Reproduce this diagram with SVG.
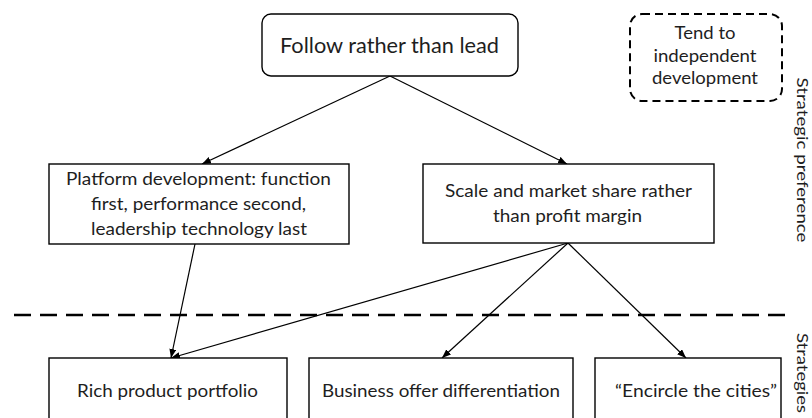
<svg xmlns="http://www.w3.org/2000/svg" width="812" height="418" viewBox="0 0 812 418">
<style>
  .t { font-family: Lato, "Open Sans", "Liberation Sans", sans-serif; fill: #1e1e1e; text-anchor: middle; }
  .box { fill: #fff; stroke: #000; stroke-width: 1.4; }
  .conn { stroke: #000; stroke-width: 1.2; fill: none; marker-end: url(#arr); }
</style>
<defs>
  <marker id="arr" markerUnits="userSpaceOnUse" markerWidth="10" markerHeight="8" refX="9" refY="3.5" orient="auto">
    <path d="M0,0 L9,3.5 L0,7 z" fill="#000"/>
  </marker>
</defs>
<rect width="812" height="418" fill="#fff"/>

<g id="separator">
  <line x1="14" y1="315" x2="792" y2="315" stroke="#000" stroke-width="2.6" stroke-dasharray="17 9"/>
</g>

<g id="connectors">
  <line class="conn" x1="390" y1="76" x2="202" y2="164"/>
  <line class="conn" x1="390" y1="76" x2="567" y2="164"/>
  <line class="conn" x1="195" y1="244" x2="171" y2="358"/>
  <line class="conn" x1="568" y1="243" x2="171" y2="358"/>
  <line class="conn" x1="568" y1="243" x2="442" y2="358"/>
  <line class="conn" x1="568" y1="243" x2="686" y2="358"/>
</g>

<g id="follow">
  <rect class="box" x="262" y="14" width="256" height="62" rx="9" stroke-width="1.8"/>
  <text class="t" x="389.5" y="53" font-size="21" textLength="219" lengthAdjust="spacingAndGlyphs">Follow rather than lead</text>
</g>

<g id="independent">
  <rect x="630" y="14" width="152" height="87" rx="12" fill="#fff" stroke="#000" stroke-width="2" stroke-dasharray="8 5"/>
  <text class="t" x="705" y="39" font-size="16.5" textLength="61" lengthAdjust="spacingAndGlyphs">Tend to</text>
  <text class="t" x="705" y="62" font-size="16.5" textLength="103" lengthAdjust="spacingAndGlyphs">independent</text>
  <text class="t" x="705" y="84" font-size="16.5" textLength="106" lengthAdjust="spacingAndGlyphs">development</text>
</g>

<g id="platform">
  <rect class="box" x="49" y="164" width="300" height="80"/>
  <text class="t" x="198.5" y="185" font-size="17" textLength="265" lengthAdjust="spacingAndGlyphs">Platform development: function</text>
  <text class="t" x="198.5" y="210" font-size="17" textLength="215" lengthAdjust="spacingAndGlyphs">first, performance second,</text>
  <text class="t" x="199" y="235" font-size="17" textLength="216" lengthAdjust="spacingAndGlyphs">leadership technology last</text>
</g>

<g id="scale">
  <rect class="box" x="423" y="164" width="291" height="79"/>
  <text class="t" x="568.5" y="197" font-size="17" textLength="247" lengthAdjust="spacingAndGlyphs">Scale and market share rather</text>
  <text class="t" x="567.5" y="222" font-size="17" textLength="149" lengthAdjust="spacingAndGlyphs">than profit margin</text>
</g>

<g id="rich">
  <rect class="box" x="49" y="358" width="238" height="80"/>
  <text class="t" x="167.5" y="397" font-size="17" textLength="181" lengthAdjust="spacingAndGlyphs">Rich product portfolio</text>
</g>

<g id="business">
  <rect class="box" x="309" y="358" width="264" height="80"/>
  <text class="t" x="441" y="397" font-size="17" textLength="238" lengthAdjust="spacingAndGlyphs">Business offer differentiation</text>
</g>

<g id="encircle">
  <rect class="box" x="595" y="358" width="186" height="80"/>
  <text class="t" x="696" y="397" font-size="17" textLength="162" lengthAdjust="spacingAndGlyphs">“Encircle the cities”</text>
</g>

<g id="labels">
  <text class="t" font-size="16" transform="translate(797,160) rotate(90)" textLength="165" lengthAdjust="spacingAndGlyphs">Strategic preference</text>
  <text class="t" font-size="16" transform="translate(797,333) rotate(90)" style="text-anchor:start" textLength="80" lengthAdjust="spacingAndGlyphs">Strategies</text>
</g>
</svg>
